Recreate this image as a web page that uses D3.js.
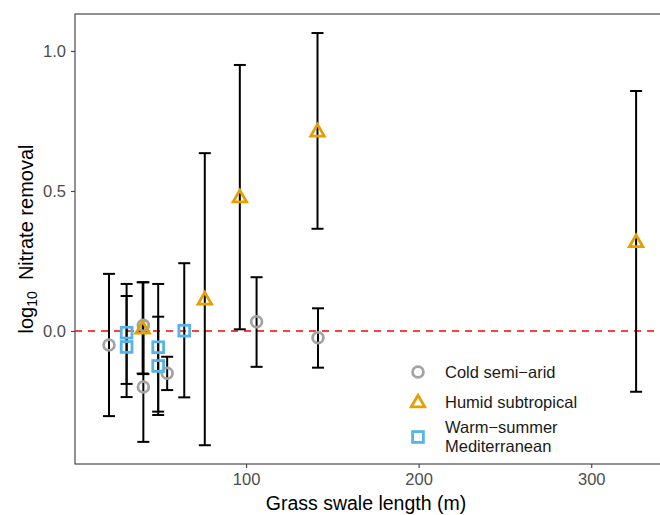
<!DOCTYPE html>
<html><head><meta charset="utf-8">
<script src="https://cdn.jsdelivr.net/npm/d3@7"></script>
<style>body{margin:0;background:#fff}svg{display:block}</style>
</head><body>
<svg id="c" width="660" height="515"></svg>
<script>
// Data
const climates = ["Cold semi\u2212arid", "Humid subtropical", "Warm\u2212summer Mediterranean"];
const coldLen = [20.6, 40.5, 40.5, 54.3, 106.1, 141.7];
const coldVal = [-0.05, 0.02, -0.20, -0.151, 0.033, -0.024];
const coldHi  = [0.204, 0.174, 0.0, -0.092, 0.192, 0.081];
const coldLo  = [-0.304, -0.154, -0.396, -0.211, -0.128, -0.131];
const humidLen = [40.1, 76.1, 96.4, 141.4, 326];
const humidVal = [0.006, 0.11, 0.475, 0.71, 0.315];
const humidHi  = [0.174, 0.635, 0.95, 1.064, 0.857];
const humidLo  = [-0.152, -0.408, 0.006, 0.365, -0.217];
const medLen = [30.8, 30.8, 49.1, 49.1, 64.2];
const medVal = [-0.006, -0.057, -0.058, -0.125, 0.001];
const medHi  = [0.168, 0.125, 0.168, 0.051, 0.242];
const medLo  = [-0.189, -0.236, -0.288, -0.30, -0.237];
const xTicks = [100, 200, 300];
const yTicks = [0.0, 0.5, 1.0];

const rows = [];
function add(cl, L, V, H, Lo){ L.forEach((l,i)=>rows.push({climate:cl,len:l,val:V[i],hi:H[i],lo:Lo[i]})); }
add(climates[0], coldLen, coldVal, coldHi, coldLo);
add(climates[1], humidLen, humidVal, humidHi, humidLo);
add(climates[2], medLen, medVal, medHi, medLo);

const svg = d3.select("#c");
const L = 75, R = 662, T = 14, B = 464;
const x = d3.scaleLinear().domain([0.9, 341]).range([L, R]);
const y = d3.scaleLinear().domain([-0.475, 1.132]).range([B, T]);
const color = d3.scaleOrdinal().domain(climates).range(["#a3a3a3", "#E69F00", "#56B4E9"]);
const shape = d3.scaleOrdinal().domain(climates).range(["circle", "triangle", "square"]);
const font = "'Liberation Sans', Arial, Helvetica, sans-serif";

// panel border
svg.append("rect").attr("x", L).attr("y", T).attr("width", R - L).attr("height", B - T)
  .attr("fill", "none").attr("stroke", "#4a4a4a").attr("stroke-width", 1.2);

// axes
const xAxis = svg.append("g").attr("transform", `translate(0,${B})`)
  .call(d3.axisBottom(x).tickValues(xTicks).tickSize(4).tickPadding(5).tickFormat(d3.format("d")));
const yAxis = svg.append("g").attr("transform", `translate(${L},0)`)
  .call(d3.axisLeft(y).tickValues(yTicks).tickSize(4).tickPadding(5).tickFormat(d3.format(".1f")));
[xAxis, yAxis].forEach(g => {
  g.select(".domain").remove();
  g.selectAll(".tick line").attr("stroke", "#4a4a4a").attr("stroke-width", 1.2);
  g.selectAll(".tick text").attr("fill", "#4d4d4d").style("font-family", font).style("font-size", "16.5px");
});

// zero line
svg.append("line").attr("x1", L).attr("x2", R).attr("y1", y(0)).attr("y2", y(0))
  .attr("stroke", "#ff0000").attr("stroke-width", 1.6).attr("stroke-dasharray", "7,6");

// error bars
const eb = svg.append("g").attr("stroke", "#000").attr("stroke-width", 2).attr("fill", "none");
const cw = 6;
rows.forEach(d => {
  const cx = x(d.len);
  eb.append("line").attr("x1", cx).attr("x2", cx).attr("y1", y(d.hi)).attr("y2", y(d.lo));
  eb.append("line").attr("x1", cx - cw).attr("x2", cx + cw).attr("y1", y(d.hi)).attr("y2", y(d.hi));
  eb.append("line").attr("x1", cx - cw).attr("x2", cx + cw).attr("y1", y(d.lo)).attr("y2", y(d.lo));
});

function drawMarker(g, s, cx, cy, col) {
  if (s === "circle") {
    g.append("circle").attr("cx", cx).attr("cy", cy).attr("r", 5.4)
      .attr("fill", "none").attr("stroke", col).attr("stroke-width", 2.8);
  } else if (s === "square") {
    g.append("rect").attr("x", cx - 5.4).attr("y", cy - 5.4).attr("width", 10.8).attr("height", 10.8)
      .attr("fill", "none").attr("stroke", col).attr("stroke-width", 2.8);
  } else {
    const r = 7.8, xc = r * Math.sqrt(3) / 2, yc = r / 2;
    g.append("path").attr("d", `M${cx},${cy - r}L${cx + xc},${cy + yc}L${cx - xc},${cy + yc}Z`)
      .attr("fill", "none").attr("stroke", col).attr("stroke-width", 2.8).attr("stroke-linejoin", "miter");
  }
}

const pts = svg.append("g");
climates.forEach(cl => {
  rows.filter(d => d.climate === cl).forEach(d => drawMarker(pts, shape(cl), x(d.len), y(d.val), color(cl)));
});

// legend
const leg = svg.append("g");
const legY = [372, 402, 437];
climates.forEach((cl, i) => {
  drawMarker(leg, shape(cl), 418, legY[i] + (i === 1 ? 1 : 0), color(cl));
});
const lt = leg.append("g").style("font-family", font).style("font-size", "16.5px").attr("fill", "#1a1a1a");
lt.append("text").attr("x", 445).attr("y", legY[0]).attr("dy", "0.35em").text("Cold semi\u2212arid");
lt.append("text").attr("x", 445).attr("y", legY[1]).attr("dy", "0.35em").text("Humid subtropical");
lt.append("text").attr("x", 445).attr("y", 427.5).attr("dy", "0.35em").text("Warm\u2212summer");
lt.append("text").attr("x", 445).attr("y", 446).attr("dy", "0.35em").text("Mediterranean");

// axis titles
svg.append("text").attr("x", (L + 657) / 2).attr("y", 510).attr("text-anchor", "middle")
  .style("font-family", font).style("font-size", "19.5px").attr("fill", "#000").text("Grass swale length (m)");
const yt = svg.append("text").attr("transform", `translate(33,${(T + B) / 2}) rotate(-90)`)
  .attr("text-anchor", "middle").style("font-family", font).style("font-size", "20px").attr("fill", "#000");
yt.append("tspan").text("log");
yt.append("tspan").attr("dy", 4).style("font-size", "14px").text("10");
yt.append("tspan").attr("dy", -4).text("\u00a0\u00a0Nitrate removal");
</script>
</body></html>
